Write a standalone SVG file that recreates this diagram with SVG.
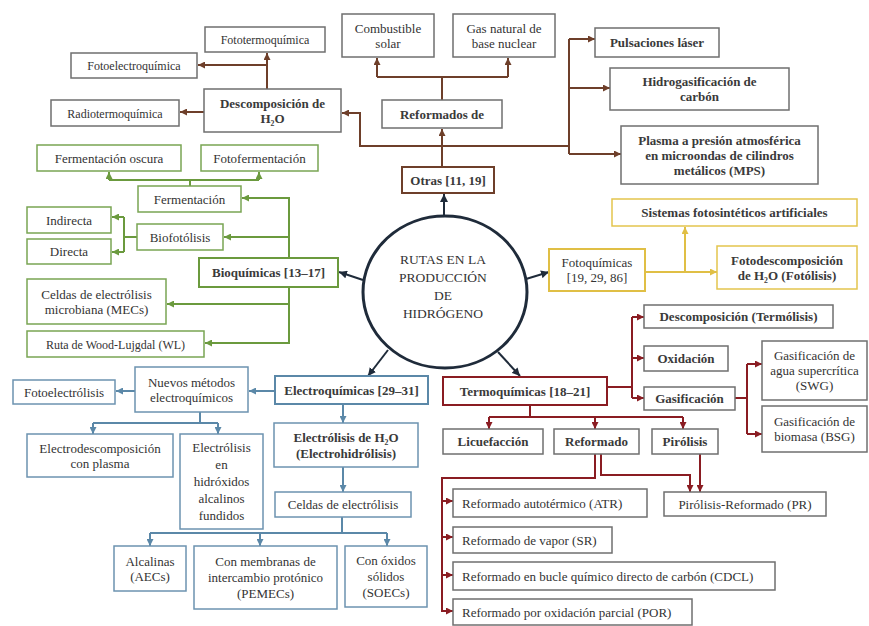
<svg xmlns="http://www.w3.org/2000/svg" width="869" height="626" viewBox="0 0 869 626">
<style>
text{font-family:'Liberation Serif','Noto Serif','DejaVu Serif','Tinos','FreeSerif','Nimbus Roman','Nimbus Roman No9 L','Times New Roman','Times','Cambria','Georgia',serif;font-size:13px;fill:#333;text-anchor:middle}
.b{font-weight:bold;fill:#3a3a3a}
.s{font-size:12px}
.l{text-anchor:start}
rect{fill:#fff;stroke-width:1.5}
.g{stroke:#6f6f6f}
.gr{stroke:#79a553}
.y{stroke:#e3c54e}
.bl{stroke:#6c93b0}
.cb{stroke:#6e3f2a;stroke-width:2}
.cg{stroke:#6b9a3e;stroke-width:2}
.cy{stroke:#e0bf45;stroke-width:2}
.cbl{stroke:#5b88a8;stroke-width:2}
.cr{stroke:#8a1c22;stroke-width:2}
#connectors path,#connectors line{fill:none;stroke-width:2}
#connectors .br{stroke:#6e3f2a;marker-end:url(#ab)}
#connectors .brn{stroke:#6e3f2a}
#connectors .gn{stroke:#6b9a3e;marker-end:url(#ag)}
#connectors .gnn{stroke:#6b9a3e}
#connectors .yl{stroke:#e0bf45;marker-end:url(#ay)}
#connectors .bu{stroke:#5b88a8;marker-end:url(#abl)}
#connectors .bun{stroke:#5b88a8}
#connectors .rd{stroke:#8a1c22;marker-end:url(#ar)}
#connectors .rdn{stroke:#8a1c22}
#connectors .nv{stroke:#1f2b3a;marker-end:url(#an)}
</style>
<defs>
<marker id="ab" markerUnits="userSpaceOnUse" markerWidth="7" markerHeight="7" refX="7" refY="3.5" orient="auto"><path d="M0,0 L7,3.5 L0,7 z" fill="#6e3f2a"/></marker>
<marker id="ag" markerUnits="userSpaceOnUse" markerWidth="7" markerHeight="7" refX="7" refY="3.5" orient="auto"><path d="M0,0 L7,3.5 L0,7 z" fill="#6b9a3e"/></marker>
<marker id="ay" markerUnits="userSpaceOnUse" markerWidth="7" markerHeight="7" refX="7" refY="3.5" orient="auto"><path d="M0,0 L7,3.5 L0,7 z" fill="#e0bf45"/></marker>
<marker id="abl" markerUnits="userSpaceOnUse" markerWidth="7" markerHeight="7" refX="7" refY="3.5" orient="auto"><path d="M0,0 L7,3.5 L0,7 z" fill="#5b88a8"/></marker>
<marker id="ar" markerUnits="userSpaceOnUse" markerWidth="7" markerHeight="7" refX="7" refY="3.5" orient="auto"><path d="M0,0 L7,3.5 L0,7 z" fill="#8a1c22"/></marker>
<marker id="an" markerUnits="userSpaceOnUse" markerWidth="8" markerHeight="8" refX="8" refY="4" orient="auto"><path d="M0,0 L8,4 L0,8 z" fill="#1f2b3a"/></marker>
</defs>
<rect x="0" y="0" width="869" height="626" fill="#fff" stroke="none"/>

<g id="connectors">
<line class="nv" x1="444" y1="217" x2="444" y2="194"/>
<line class="nv" x1="363" y1="280" x2="339" y2="272"/>
<line class="nv" x1="526" y1="279" x2="549" y2="272"/>
<line class="nv" x1="388" y1="350" x2="368" y2="376"/>
<line class="nv" x1="498" y1="352" x2="520" y2="376"/>
<line class="br" x1="442" y1="167" x2="442" y2="129"/>
<line class="brn" x1="442" y1="100" x2="442" y2="77"/>
<line class="brn" x1="377" y1="77" x2="508" y2="77"/>
<line class="br" x1="377" y1="77" x2="377" y2="58"/>
<line class="br" x1="508" y1="77" x2="508" y2="58"/>
<path class="br" d="M569,146 H360 V113 H342"/>
<line class="brn" x1="569" y1="39" x2="569" y2="154"/>
<line class="br" x1="569" y1="39" x2="595" y2="39"/>
<line class="br" x1="569" y1="88" x2="610" y2="88"/>
<line class="br" x1="569" y1="154" x2="621" y2="154"/>
<line class="br" x1="267" y1="89" x2="267" y2="53"/>
<line class="br" x1="267" y1="65" x2="198" y2="65"/>
<line class="br" x1="204" y1="112" x2="180" y2="112"/>
<path class="gn" d="M289,258 V198 H242"/>
<line class="gn" x1="289" y1="237" x2="224" y2="237"/>
<line class="gnn" x1="137" y1="237" x2="124" y2="237"/>
<line class="gnn" x1="124" y1="217" x2="124" y2="252"/>
<line class="gn" x1="124" y1="217" x2="112" y2="217"/>
<line class="gn" x1="124" y1="252" x2="112" y2="252"/>
<line class="gnn" x1="190" y1="186" x2="190" y2="180"/>
<line class="gnn" x1="109" y1="180" x2="259" y2="180"/>
<line class="gn" x1="109" y1="180" x2="109" y2="172"/>
<line class="gn" x1="259" y1="180" x2="259" y2="172"/>
<path class="gn" d="M289,287 V343 H205"/>
<line class="gn" x1="289" y1="304" x2="167" y2="304"/>
<line class="yl" x1="645" y1="272" x2="717" y2="272"/>
<line class="yl" x1="685" y1="272" x2="685" y2="227"/>
<line class="bu" x1="275" y1="391" x2="249" y2="391"/>
<line class="bu" x1="135" y1="391" x2="116" y2="391"/>
<line class="bun" x1="200" y1="412" x2="200" y2="423"/>
<line class="bun" x1="93" y1="423" x2="218" y2="423"/>
<line class="bu" x1="93" y1="423" x2="93" y2="434"/>
<line class="bu" x1="218" y1="423" x2="218" y2="434"/>
<line class="bu" x1="343" y1="404" x2="343" y2="423"/>
<line class="bu" x1="343" y1="467" x2="343" y2="492"/>
<line class="bun" x1="342" y1="517" x2="342" y2="533"/>
<line class="bun" x1="150" y1="533" x2="387" y2="533"/>
<line class="bu" x1="150" y1="533" x2="150" y2="546"/>
<line class="bu" x1="260" y1="533" x2="260" y2="546"/>
<line class="bu" x1="387" y1="533" x2="387" y2="546"/>
<line class="rdn" x1="607" y1="387" x2="632" y2="387"/>
<line class="rdn" x1="632" y1="317" x2="632" y2="398"/>
<line class="rd" x1="632" y1="317" x2="644" y2="317"/>
<line class="rd" x1="632" y1="358" x2="644" y2="358"/>
<line class="rd" x1="632" y1="398" x2="644" y2="398"/>
<line class="rdn" x1="735" y1="398" x2="747" y2="398"/>
<line class="rdn" x1="747" y1="364" x2="747" y2="434"/>
<line class="rd" x1="747" y1="364" x2="762" y2="364"/>
<line class="rd" x1="747" y1="434" x2="762" y2="434"/>
<line class="rdn" x1="530" y1="405" x2="530" y2="417"/>
<line class="rdn" x1="489" y1="417" x2="683" y2="417"/>
<line class="rd" x1="489" y1="417" x2="489" y2="429"/>
<line class="rd" x1="595" y1="417" x2="595" y2="429"/>
<line class="rd" x1="683" y1="417" x2="683" y2="429"/>
<path class="rd" d="M595,454 V478 H442 V611 H453"/>
<line class="rd" x1="442" y1="501" x2="453" y2="501"/>
<line class="rd" x1="442" y1="537" x2="453" y2="537"/>
<line class="rd" x1="442" y1="575" x2="453" y2="575"/>
<path class="rd" d="M601,454 V475 H690 V492"/>
<line class="rd" x1="700" y1="454" x2="700" y2="492"/>
</g>

<g id="center">
<ellipse cx="445" cy="292" rx="82" ry="76" fill="#fff" stroke="#1f2b3a" stroke-width="3"/>
<text x="443" y="264" fill="#444" style="font-size:13.5px">RUTAS EN LA</text>
<text x="443" y="282" fill="#444" style="font-size:13.5px">PRODUCCIÓN</text>
<text x="443" y="300" fill="#444" style="font-size:13.5px">DE</text>
<text x="443" y="318" fill="#444" style="font-size:13.5px">HIDRÓGENO</text>
</g>

<g id="fototermo"><rect class="g" x="205" y="27" width="120" height="25"/><text class="s" x="265" y="44">Fototermoquímica</text></g>
<g id="fotoelectro"><rect class="g" x="71" y="53" width="126" height="25"/><text class="s" x="134" y="70">Fotoelectroquímica</text></g>
<g id="radiotermo"><rect class="g" x="51" y="100" width="128" height="26"/><text class="s" x="115" y="117.5">Radiotermoquímica</text></g>
<g id="descomp-h2o"><rect class="g" x="204" y="89" width="137" height="43"/><text class="b" x="272.5" y="107.5">Descomposición de</text><text class="b" x="272.5" y="123">H₂O</text></g>
<g id="combustible"><rect class="g" x="342" y="14" width="92" height="43"/><text x="388" y="32.5">Combustible</text><text x="388" y="47.5">solar</text></g>
<g id="gasnatural"><rect class="g" x="453" y="14" width="102" height="43"/><text x="504" y="32.5">Gas natural de</text><text x="504" y="47.5">base nuclear</text></g>
<g id="reformados-de"><rect class="g" x="382" y="100" width="120" height="28"/><text class="b" x="442" y="118.5">Reformados de</text></g>
<g id="otras"><rect class="cb" x="402" y="167" width="92" height="26"/><text class="b" x="448" y="184.5">Otras [11, 19]</text></g>
<g id="pulsaciones"><rect class="g" x="595" y="28" width="124" height="29"/><text class="b" x="657" y="47">Pulsaciones láser</text></g>
<g id="hidrogas"><rect class="g" x="610" y="68" width="179" height="42"/><text class="b" x="699.5" y="86">Hidrogasificación de</text><text class="b" x="699.5" y="101">carbón</text></g>
<g id="plasma"><rect class="g" x="621" y="126" width="197" height="58"/><text class="b" x="719.5" y="144.5">Plasma a presión atmosférica</text><text class="b" x="719.5" y="159.5">en microondas de cilindros</text><text class="b" x="719.5" y="174.5">metálicos (MPS)</text></g>

<g id="ferm-oscura"><rect class="gr" x="37" y="145" width="144" height="26"/><text x="109" y="162.5">Fermentación oscura</text></g>
<g id="fotoferm"><rect class="gr" x="201" y="145" width="117" height="26"/><text x="259.5" y="162.5">Fotofermentación</text></g>
<g id="fermentacion"><rect class="gr" x="138" y="186" width="103" height="26"/><text x="189.5" y="203.5">Fermentación</text></g>
<g id="indirecta"><rect class="gr" x="27" y="207" width="84" height="26"/><text x="69" y="224.5">Indirecta</text></g>
<g id="directa"><rect class="gr" x="27" y="239" width="84" height="25"/><text x="69" y="256">Directa</text></g>
<g id="biofotolisis"><rect class="gr" x="137" y="224" width="86" height="26"/><text x="180" y="241.5">Biofotólisis</text></g>
<g id="bioquimicas"><rect class="cg" x="199" y="258" width="139" height="29"/><text class="b" x="268.5" y="277">Bioquímicas [13–17]</text></g>
<g id="mecs"><rect class="gr" x="27" y="279" width="139" height="45"/><text x="96.5" y="298.5">Celdas de electrólisis</text><text x="96.5" y="313.5">microbiana (MECs)</text></g>
<g id="wl"><rect class="gr" x="27" y="331" width="177" height="26"/><text class="s" x="115.5" y="348.5">Ruta de Wood-Lujgdal (WL)</text></g>

<g id="fotoquimicas"><rect class="cy" x="549" y="249" width="96" height="42"/><text x="597" y="267">Fotoquímicas</text><text x="597" y="282">[19, 29, 86]</text></g>
<g id="sistemas"><rect class="y" x="612" y="199" width="245" height="27" stroke-width="2"/><text class="b" x="734.5" y="217">Sistemas fotosintéticos artificiales</text></g>
<g id="fotodescomp"><rect class="y" x="717" y="246" width="140" height="43" stroke-width="2"/><text class="b" x="787" y="264.5">Fotodescomposición</text><text class="b" x="787" y="280">de H₂O (Fotólisis)</text></g>

<g id="electroquimicas"><rect class="cbl" x="275" y="376" width="153" height="28"/><text class="b" x="351.5" y="394.5">Electroquímicas [29–31]</text></g>
<g id="nuevos"><rect class="bl" x="135" y="367" width="113" height="45"/><text x="191.5" y="386.5">Nuevos métodos</text><text x="191.5" y="401.5">electroquímicos</text></g>
<g id="fotoelectrolisis"><rect class="bl" x="13" y="380" width="102" height="24"/><text x="64" y="396.5">Fotoelectrólisis</text></g>
<g id="electrodescomp"><rect class="bl" x="27" y="434" width="146" height="43"/><text x="100" y="452.5">Electrodescomposición</text><text x="100" y="467.5">con plasma</text></g>
<g id="hidroxidos"><rect class="bl" x="180" y="434" width="83" height="95"/><text x="221.5" y="452">Electrólisis</text><text x="221.5" y="469">en</text><text x="221.5" y="486">hidróxidos</text><text x="221.5" y="503">alcalinos</text><text x="221.5" y="520">fundidos</text></g>
<g id="electrolisis-h2o"><rect class="bl" x="274" y="423" width="144" height="44"/><text class="b" x="346" y="442">Electrólisis de H₂O</text><text class="b" x="346" y="457.5">(Electrohidrólisis)</text></g>
<g id="celdas"><rect class="bl" x="275" y="492" width="136" height="25"/><text x="343" y="509">Celdas de electrólisis</text></g>
<g id="alcalinas"><rect class="bl" x="114" y="546" width="72" height="45"/><text x="150" y="565.5">Alcalinas</text><text x="150" y="580.5">(AECs)</text></g>
<g id="pemecs"><rect class="bl" x="194" y="546" width="143" height="63"/><text x="265.5" y="566">Con membranas de</text><text x="265.5" y="582">intercambio protónico</text><text x="265.5" y="598">(PEMECs)</text></g>
<g id="soecs"><rect class="bl" x="345" y="546" width="82" height="61"/><text x="386" y="565">Con óxidos</text><text x="386" y="581">sólidos</text><text x="386" y="597">(SOECs)</text></g>

<g id="termoquimicas"><rect class="cr" x="443" y="377" width="164" height="28"/><text class="b" x="525" y="395.5">Termoquímicas [18–21]</text></g>
<g id="termolisis"><rect class="g" x="644" y="305" width="189" height="23"/><text class="b" x="738.5" y="321">Descomposición (Termólisis)</text></g>
<g id="oxidacion"><rect class="g" x="644" y="346" width="84" height="25"/><text class="b" x="686" y="363">Oxidación</text></g>
<g id="gasificacion"><rect class="g" x="644" y="387" width="91" height="23"/><text class="b" x="689.5" y="403">Gasificación</text></g>
<g id="swg"><rect class="g" x="762" y="341" width="105" height="59"/><text x="814.5" y="359.5">Gasificación de</text><text x="814.5" y="374.5">agua supercrítica</text><text x="814.5" y="389.5">(SWG)</text></g>
<g id="bsg"><rect class="g" x="762" y="406" width="105" height="46"/><text x="814.5" y="426">Gasificación de</text><text x="814.5" y="441">biomasa (BSG)</text></g>
<g id="licuefaccion"><rect class="g" x="443" y="429" width="100" height="25"/><text class="b" x="493" y="446">Licuefacción</text></g>
<g id="reformado"><rect class="g" x="554" y="429" width="85" height="25"/><text class="b" x="596.5" y="446">Reformado</text></g>
<g id="pirolisis"><rect class="g" x="652" y="429" width="66" height="25"/><text class="b" x="685" y="446">Pirólisis</text></g>
<g id="atr"><rect class="g" x="453" y="489" width="194" height="28"/><text class="l" x="462" y="507.5">Reformado autotérmico (ATR)</text></g>
<g id="sr"><rect class="g" x="453" y="527" width="159" height="26"/><text class="l" x="462" y="544.5">Reformado de vapor (SR)</text></g>
<g id="cdcl"><rect class="g" x="453" y="562" width="322" height="28"/><text class="l" x="462" y="580.5">Reformado en bucle químico directo de carbón (CDCL)</text></g>
<g id="por"><rect class="g" x="453" y="599" width="239" height="26"/><text class="l" x="462" y="616.5">Reformado por oxidación parcial (POR)</text></g>
<g id="pr"><rect class="g" x="664" y="492" width="162" height="24"/><text x="745" y="508.5">Pirólisis-Reformado (PR)</text></g>
</svg>
